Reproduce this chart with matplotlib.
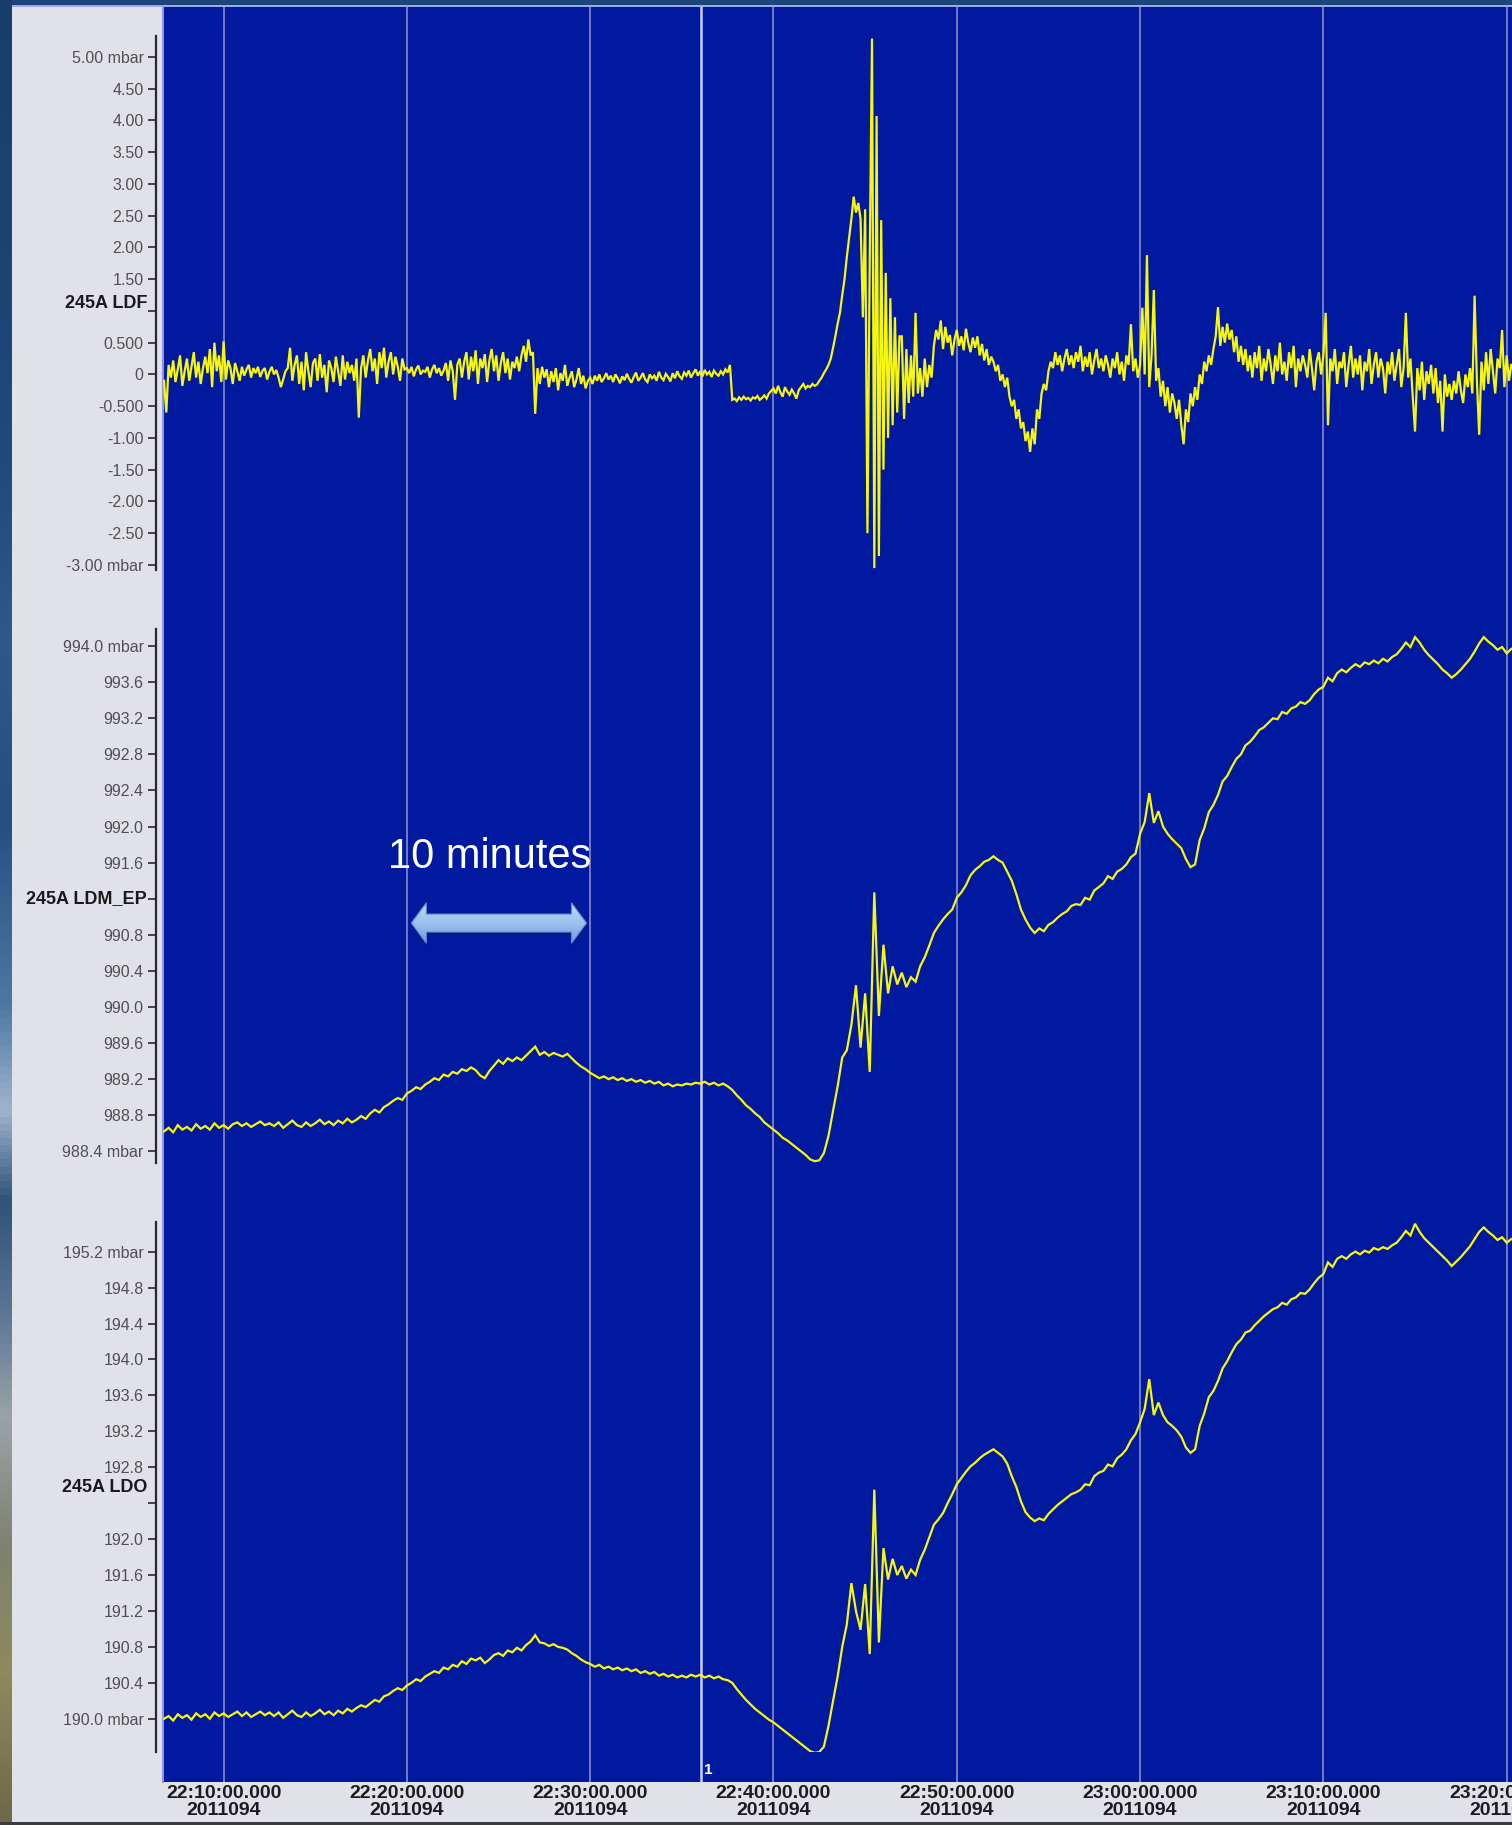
import numpy as np
import matplotlib
matplotlib.use("Agg")
import matplotlib.pyplot as plt
import matplotlib.transforms as mtransforms
from matplotlib.colors import LinearSegmentedColormap
from matplotlib.patches import Polygon, Rectangle

W, H, DPI = 1512, 1825, 100

# sample times are minutes after 22:00 (day 2011094)
T_START = 6.75
LDF_STEP = 0.125
BARO_STEP = 0.25

# 245A LDF, mbar, one sample every 7.5 s (rows = one minute, first row starts 22:06:45)
ldf = [
    -0.10, -0.60,
    0.15, -0.05, 0.22, -0.12, 0.08, 0.30, -0.18, 0.05,
    0.25, -0.10, 0.12, 0.35, -0.05, 0.20, -0.15, 0.10,
    0.28, 0.02, 0.40, -0.20, 0.50, 0.05, 0.30, -0.12,
    0.52, -0.08, 0.22, 0.10, -0.15, 0.18, 0.05, -0.10,
    0.12, -0.02, 0.08, 0.15, -0.05, 0.10, 0.02, 0.12,
    -0.04, 0.06, 0.10, -0.08, 0.04, 0.12, 0.00, 0.07,
    -0.05, -0.20, -0.08, 0.05, 0.10, 0.42, -0.10, 0.15,
    0.30, -0.15, 0.20, -0.25, 0.35, 0.05, -0.20, 0.18,
    0.25, -0.10, 0.32, -0.05, 0.15, -0.28, 0.22, 0.10,
    -0.12, 0.28, 0.05, -0.18, 0.30, -0.08, 0.20, 0.02,
    0.15, -0.10, 0.25, -0.68, 0.10, 0.30, -0.05, 0.22,
    0.40, 0.05, 0.25, -0.15, 0.35, 0.10, 0.42, -0.05,
    0.20, 0.35, 0.00, 0.28, 0.12, -0.10, 0.25, 0.08,
    0.10, 0.02, 0.12, -0.03, 0.08, 0.14, 0.00, 0.06,
    0.04, 0.12, -0.05, 0.08, 0.15, 0.02, 0.10, -0.02,
    0.06, 0.18, -0.10, 0.22, 0.05, -0.40, 0.15, 0.25,
    -0.05, 0.20, 0.35, -0.08, 0.28, 0.05, 0.38, -0.15,
    0.25, 0.10, 0.32, -0.12, 0.22, 0.40, 0.05, 0.30,
    -0.10, 0.18, 0.35, 0.02, 0.25, -0.08, 0.20, 0.10,
    0.28, 0.05, 0.30, 0.45, 0.20, 0.55, 0.30, 0.35,
    -0.62, 0.10, -0.15, 0.12, -0.05, 0.08, -0.20, 0.05,
    -0.12, 0.10, -0.25, 0.02, -0.10, 0.15, -0.18, -0.05,
    0.05, -0.20, -0.08, 0.10, -0.15, -0.02, -0.22, -0.10,
    -0.05, -0.15, -0.02, -0.10, 0.00, -0.12, -0.06, 0.02,
    -0.08, -0.02, -0.12, 0.00, -0.06, -0.14, -0.03, -0.09,
    0.01, -0.07, -0.13, -0.04, 0.03, -0.10, -0.05, 0.02,
    -0.08, -0.12, 0.00, -0.06, -0.02, -0.10, 0.04, -0.05,
    -0.09, 0.01, -0.04, -0.11, 0.02, -0.06, 0.05, -0.03,
    -0.07, 0.03, -0.02, 0.06, -0.05, 0.02, 0.08, -0.02,
    0.05, -0.03, 0.07, 0.00, 0.04, -0.04, 0.06, 0.01,
    -0.02, 0.05, 0.00, 0.08, 0.03, 0.15, -0.40, -0.38,
    -0.42, -0.36, -0.40, -0.35, -0.39, -0.37, -0.41, -0.36,
    -0.38, -0.34, -0.40, -0.37, -0.33, -0.38, -0.30, -0.26,
    -0.22, -0.30, -0.18, -0.28, -0.35, -0.20, -0.27, -0.32,
    -0.24, -0.30, -0.38, -0.25, -0.20, -0.15, -0.22, -0.18,
    -0.20, -0.15, -0.18, -0.16, -0.10, -0.05, 0.02, 0.08,
    0.15, 0.25, 0.42, 0.60, 0.80, 0.97, 1.25, 1.50,
    1.85, 2.15, 2.45, 2.80, 2.55, 2.70, 2.45, 0.90,
    2.60, -2.50, 1.80, 5.29, -3.05, 4.07, -2.86, 2.43,
    -1.50, 1.60, -1.00, 1.20, -0.80, 0.90, -0.60, 0.60,
    0.60, -0.70, 0.40, -0.45, 0.30, -0.35, 0.97, -0.30,
    0.10, -0.35, 0.25, -0.20, 0.15, -0.05, 0.45, 0.70,
    0.55, 0.85, 0.40, 0.75, 0.50, 0.62, 0.30, 0.55,
    0.70, 0.45, 0.60, 0.38, 0.72, 0.50, 0.35, 0.58,
    0.42, 0.60, 0.30, 0.48, 0.22, 0.40, 0.15, 0.28,
    0.20, 0.05, 0.15, -0.10, 0.00, -0.20, -0.05, -0.35,
    -0.50, -0.40, -0.70, -0.55, -0.85, -0.75, -1.05, -0.90,
    -1.22, -0.85, -1.10, -0.55, -0.70, -0.30, -0.15, -0.25,
    0.05, 0.20, 0.10, 0.35, 0.15, 0.30, 0.05, 0.25,
    0.40, 0.15, 0.30, 0.10, 0.35, 0.20, 0.45, 0.05,
    0.28, 0.12, 0.35, 0.00, 0.22, 0.40, 0.10, 0.25,
    0.05, 0.30, 0.15, -0.05, 0.25, 0.10, 0.35, 0.00,
    0.20, -0.10, 0.30, 0.15, 0.79, 0.05, 0.25, -0.05,
    0.15, 1.05, 0.00, 1.88, -0.20, 0.30, 1.33, -0.10,
    0.10, -0.35, -0.10, -0.50, -0.20, -0.60, -0.30, -0.45,
    -0.70, -0.40, -0.80, -1.10, -0.55, -0.75, -0.30, -0.50,
    -0.20, -0.40, 0.00, -0.15, 0.20, 0.05, 0.30, 0.15,
    0.40, 0.60, 1.06, 0.45, 0.75, 0.50, 0.80, 0.55,
    0.70, 0.35, 0.60, 0.20, 0.45, 0.15, 0.40, 0.05,
    0.30, -0.05, 0.35, 0.10, 0.45, -0.10, 0.25, 0.05,
    0.40, 0.15, -0.15, 0.30, 0.05, 0.50, 0.00, 0.20,
    -0.10, 0.35, 0.10, 0.45, -0.20, 0.25, 0.05, 0.30,
    0.15, -0.05, 0.40, 0.10, -0.25, 0.20, 0.35, 0.00,
    0.30, 0.97, -0.80, 0.25, 0.05, 0.40, -0.15, 0.20,
    0.10, 0.35, -0.20, 0.15, 0.45, -0.05, 0.25, 0.00,
    0.30, -0.25, 0.20, 0.05, 0.40, -0.15, 0.15, 0.35,
    -0.05, 0.25, 0.10, -0.30, 0.20, 0.00, 0.35, -0.10,
    0.15, 0.40, -0.20, 0.10, 0.97, -0.05, 0.25, -0.35,
    -0.90, 0.10, -0.25, 0.20, -0.40, 0.05, -0.15, 0.15,
    -0.30, 0.10, -0.45, -0.10, -0.90, 0.00, -0.35, -0.15,
    -0.40, -0.10, -0.30, 0.05, -0.25, -0.45, 0.00, -0.20,
    0.10, -0.30, 1.24, -0.10, -0.95, 0.20, -0.25, 0.35,
    -0.15, 0.40, 0.05, -0.30, 0.25, 0.10, 0.70, -0.20,
    0.30, -0.10, 0.15,
]

# 245A LDM_EP, mbar, one sample every 15 s
ldm_ep = [
    988.62,
    988.66, 988.61, 988.69, 988.64,
    988.67, 988.63, 988.70, 988.65,
    988.68, 988.64, 988.71, 988.66,
    988.69, 988.65, 988.70, 988.72,
    988.68, 988.71, 988.67, 988.70,
    988.73, 988.69, 988.71, 988.68,
    988.72, 988.66, 988.70, 988.74,
    988.69, 988.67, 988.72, 988.68,
    988.71, 988.75, 988.70, 988.73,
    988.69, 988.74, 988.71, 988.76,
    988.72, 988.75, 988.79, 988.76,
    988.82, 988.86, 988.83, 988.89,
    988.92, 988.96, 988.99, 988.97,
    989.04, 989.07, 989.11, 989.09,
    989.14, 989.17, 989.21, 989.19,
    989.25, 989.23, 989.28, 989.26,
    989.31, 989.29, 989.33, 989.30,
    989.24, 989.21, 989.29, 989.35,
    989.41, 989.37, 989.43, 989.40,
    989.44, 989.41, 989.46, 989.51,
    989.56, 989.47, 989.50, 989.46,
    989.49, 989.47, 989.45, 989.48,
    989.43, 989.38, 989.34, 989.31,
    989.27, 989.24, 989.21, 989.23,
    989.20, 989.22, 989.19, 989.21,
    989.18, 989.20, 989.17, 989.19,
    989.16, 989.18, 989.15, 989.17,
    989.13, 989.15, 989.12, 989.14,
    989.13, 989.15, 989.14, 989.16,
    989.15, 989.17, 989.14, 989.16,
    989.13, 989.15, 989.12, 989.08,
    989.02, 988.97, 988.91, 988.87,
    988.82, 988.78, 988.72, 988.68,
    988.64, 988.60, 988.55, 988.52,
    988.48, 988.44, 988.40, 988.36,
    988.31, 988.29, 988.30, 988.38,
    988.57, 988.85, 989.12, 989.44,
    989.52, 989.80, 990.24, 989.55,
    990.15, 989.28, 991.27, 989.90,
    990.69, 990.15, 990.45, 990.25,
    990.38, 990.22, 990.33, 990.28,
    990.45, 990.55, 990.68, 990.82,
    990.90, 990.97, 991.03, 991.08,
    991.21, 991.27, 991.35, 991.46,
    991.52, 991.56, 991.61, 991.63,
    991.67, 991.63, 991.60, 991.50,
    991.40, 991.25, 991.08, 990.97,
    990.88, 990.82, 990.87, 990.84,
    990.91, 990.94, 990.99, 991.03,
    991.06, 991.12, 991.14, 991.13,
    991.21, 991.19, 991.29, 991.33,
    991.37, 991.45, 991.42, 991.50,
    991.53, 991.58, 991.66, 991.70,
    991.92, 992.05, 992.37, 992.04,
    992.17, 992.00, 991.92, 991.86,
    991.81, 991.76, 991.64, 991.55,
    991.58, 991.85, 991.98, 992.16,
    992.24, 992.35, 992.50, 992.56,
    992.66, 992.75, 992.80, 992.90,
    992.94, 993.00, 993.07, 993.10,
    993.15, 993.20, 993.19, 993.27,
    993.25, 993.31, 993.33, 993.38,
    993.36, 993.40, 993.47, 993.52,
    993.55, 993.65, 993.61, 993.70,
    993.74, 993.71, 993.76, 993.80,
    993.77, 993.82, 993.80, 993.84,
    993.81, 993.86, 993.83, 993.88,
    993.91, 993.97, 994.04, 993.99,
    994.10, 994.04, 993.96, 993.90,
    993.85, 993.80, 993.74, 993.70,
    993.65, 993.69, 993.74, 993.80,
    993.86, 993.94, 994.03, 994.10,
    994.05, 994.01, 993.96, 993.99,
    993.92, 993.97,
]

# 245A LDO, mbar, one sample every 15 s
ldo = [
    190.00,
    190.03, 189.98, 190.05, 190.01,
    190.04, 189.99, 190.06, 190.02,
    190.05, 190.00, 190.07, 190.03,
    190.06, 190.02, 190.05, 190.08,
    190.03, 190.07, 190.02, 190.05,
    190.08, 190.04, 190.07, 190.03,
    190.07, 190.01, 190.05, 190.09,
    190.04, 190.02, 190.07, 190.03,
    190.06, 190.10, 190.05, 190.08,
    190.04, 190.09, 190.06, 190.11,
    190.08, 190.12, 190.15, 190.13,
    190.17, 190.21, 190.19, 190.25,
    190.27, 190.31, 190.34, 190.32,
    190.37, 190.40, 190.44, 190.42,
    190.47, 190.50, 190.53, 190.51,
    190.57, 190.55, 190.60, 190.58,
    190.64, 190.61, 190.67, 190.65,
    190.68, 190.62, 190.66, 190.71,
    190.73, 190.70, 190.76, 190.74,
    190.79, 190.76, 190.82, 190.86,
    190.93, 190.85, 190.84, 190.81,
    190.83, 190.80, 190.79, 190.77,
    190.73, 190.70, 190.66, 190.63,
    190.61, 190.58, 190.60, 190.56,
    190.58, 190.55, 190.57, 190.54,
    190.56, 190.53, 190.55, 190.51,
    190.53, 190.50, 190.52, 190.48,
    190.50, 190.47, 190.49, 190.46,
    190.48, 190.46, 190.49, 190.47,
    190.49, 190.46, 190.48, 190.45,
    190.47, 190.44, 190.43, 190.40,
    190.33, 190.27, 190.21, 190.16,
    190.11, 190.07, 190.03, 189.99,
    189.96, 189.92, 189.88, 189.84,
    189.80, 189.76, 189.72, 189.68,
    189.64, 189.62, 189.63, 189.69,
    189.92, 190.20, 190.47, 190.80,
    191.05, 191.51, 191.20, 190.99,
    191.50, 190.72, 192.55, 190.85,
    191.90, 191.55, 191.78, 191.60,
    191.70, 191.56, 191.66, 191.60,
    191.77, 191.88, 192.02, 192.16,
    192.22, 192.29, 192.40, 192.50,
    192.61, 192.68, 192.75, 192.81,
    192.85, 192.90, 192.94, 192.97,
    193.00, 192.96, 192.92, 192.84,
    192.70, 192.58, 192.42, 192.30,
    192.24, 192.20, 192.23, 192.21,
    192.28, 192.33, 192.38, 192.42,
    192.46, 192.50, 192.52, 192.55,
    192.61, 192.60, 192.70, 192.74,
    192.76, 192.83, 192.81, 192.90,
    192.94, 193.00, 193.10, 193.17,
    193.30, 193.45, 193.78, 193.38,
    193.52, 193.38, 193.30, 193.26,
    193.21, 193.14, 193.02, 192.96,
    193.00, 193.26, 193.40, 193.58,
    193.65, 193.76, 193.90, 193.98,
    194.08, 194.17, 194.22, 194.30,
    194.32, 194.38, 194.43, 194.48,
    194.52, 194.56, 194.58, 194.63,
    194.61, 194.67, 194.69, 194.74,
    194.73, 194.78, 194.85, 194.91,
    194.95, 195.08, 195.03, 195.12,
    195.15, 195.12, 195.17, 195.20,
    195.17, 195.21, 195.19, 195.24,
    195.22, 195.25, 195.23, 195.27,
    195.30, 195.36, 195.43, 195.38,
    195.51, 195.42, 195.35, 195.30,
    195.25, 195.20, 195.15, 195.10,
    195.04, 195.09, 195.14, 195.20,
    195.26, 195.34, 195.42, 195.47,
    195.42, 195.38, 195.33, 195.36,
    195.30, 195.34,
]

time_ticks = [10, 20, 30, 40, 50, 60, 70, 80]
time_labels = ["22:10:00.000", "22:20:00.000", "22:30:00.000", "22:40:00.000",
               "22:50:00.000", "23:00:00.000", "23:10:00.000", "23:20:00.000"]
day_code = "2011094"
marker_time = 36.05
marker_label = "1"

ldf_ticks = [5.0, 4.5, 4.0, 3.5, 3.0, 2.5, 2.0, 1.5, 1.0, 0.5, 0.0,
             -0.5, -1.0, -1.5, -2.0, -2.5, -3.0]
ldf_ticklabels = ["5.00 mbar", "4.50", "4.00", "3.50", "3.00", "2.50", "2.00", "1.50", "",
                  "0.500", "0", "-0.500", "-1.00", "-1.50", "-2.00", "-2.50", "-3.00 mbar"]
ldm_ticks = [994.0, 993.6, 993.2, 992.8, 992.4, 992.0, 991.6, 991.2,
             990.8, 990.4, 990.0, 989.6, 989.2, 988.8, 988.4]
ldm_ticklabels = ["994.0 mbar", "993.6", "993.2", "992.8", "992.4", "992.0", "991.6", "",
                  "990.8", "990.4", "990.0", "989.6", "989.2", "988.8", "988.4 mbar"]
ldo_ticks = [195.2, 194.8, 194.4, 194.0, 193.6, 193.2, 192.8, 192.4,
             192.0, 191.6, 191.2, 190.8, 190.4, 190.0]
ldo_ticklabels = ["195.2 mbar", "194.8", "194.4", "194.0", "193.6", "193.2", "192.8", "",
                  "192.0", "191.6", "191.2", "190.8", "190.4", "190.0 mbar"]

# colours
BG_NAVY = "#1b4677"
PANEL_GREY = "#e1e1ea"
PLOT_BLUE = "#00199e"
GRID = "#7b84c6"
TRACE = "#f7f70a"
TICK_TEXT = "#505050"
XMIN, XMAX = 6.694, 80.29


def fig_box(x0, y0, x1, y1):
    """pixel box (top-left origin) -> figure fraction rect"""
    return [x0 / W, 1 - y1 / H, (x1 - x0) / W, (y1 - y0) / H]


fig = plt.figure(figsize=(W / DPI, H / DPI), dpi=DPI)
fig.patch.set_facecolor(BG_NAVY)

# ---- frame: grey side panel, photo strip, borders ----
frame = fig.add_axes([0, 0, 1, 1])
frame.axis("off")
photo = LinearSegmentedColormap.from_list("photo", [
    (0.00, "#183d6a"), (0.25, "#1f4a7a"), (0.35, "#2d5a88"), (0.45, "#24507f"),
    (0.55, "#4a77a3"), (0.61, "#9fb4cc"), (0.66, "#2e5379"), (0.72, "#5a7594"),
    (0.78, "#9aa3a8"), (0.85, "#7f8170"), (0.92, "#8e8a5e"), (1.00, "#6e6a48")])
frame.imshow(np.linspace(0, 1, 400).reshape(-1, 1), cmap=photo, aspect="auto",
             extent=(0, 12, 1822, 0), interpolation="bilinear")
frame.add_patch(Rectangle((12, 7), W - 12, 1815, color=PANEL_GREY, lw=0))
frame.add_patch(Rectangle((12, 4.5), W - 12, 2.8, color="#9ea6ee", lw=0))
frame.add_patch(Rectangle((0, 1822), W, 3, color="#3b3b40", lw=0))
frame.set_xlim(0, W)
frame.set_ylim(H, 0)

# ---- blue plotting area with the time grid ----
ax_bg = fig.add_axes(fig_box(163, 7, W, 1782))
ax_bg.set_facecolor(PLOT_BLUE)
ax_bg.set_xlim(XMIN, XMAX)
ax_bg.set_ylim(0, 1)
ax_bg.set_yticks([])
ax_bg.set_xticks(time_ticks)
ax_bg.set_xticklabels([f"{lab}\n{day_code}" for lab in time_labels],
                      fontfamily="Liberation Sans", fontweight="bold", fontsize=14,
                      color="#1c1c1c", linespacing=1.0)
ax_bg.tick_params(axis="x", length=0, pad=2)
ax_bg.grid(axis="x", color=GRID, lw=1.3)
ax_bg.axvline(marker_time, color="#c9d0ff", lw=1.8)
ax_bg.text(marker_time + 0.38, 0.007, marker_label, transform=ax_bg.get_xaxis_transform(),
           color="white", fontsize=11, fontweight="bold", ha="center", va="center",
           family="Liberation Sans")
for side in ("top", "right", "bottom"):
    ax_bg.spines[side].set_visible(False)
ax_bg.spines["left"].set_color("#8c94e4")
ax_bg.spines["left"].set_linewidth(1.5)

# ---- the three channels ----
panels = [
    # values, step, pixel span, ylim, ticks, labels, name, name y
    (ldf, LDF_STEP, (36, 570), (-3.08, 5.33), ldf_ticks, ldf_ticklabels, "245A LDF", 1.125),
    (ldm_ep, BARO_STEP, (629, 1163), (988.27, 994.19), ldm_ticks, ldm_ticklabels, "245A LDM_EP", 991.2),
    (ldo, BARO_STEP, (1222, 1752), (189.63, 195.53), ldo_ticks, ldo_ticklabels, "245A LDO", 192.57),
]

axes = []
for values, step, (py0, py1), ylim, ticks, labels, name, name_y in panels:
    ax = fig.add_axes(fig_box(163, py0, W, py1))
    ax.patch.set_alpha(0)
    t = T_START + step * np.arange(len(values))
    ax.plot(t, values, color=TRACE, lw=1.6, solid_joinstyle="miter")
    ax.set_xlim(XMIN, XMAX)
    ax.set_ylim(*ylim)
    for side in ("top", "right", "bottom"):
        ax.spines[side].set_visible(False)
    ax.spines["left"].set_position(("outward", 5))
    ax.spines["left"].set_color("#2a2a2a")
    ax.spines["left"].set_linewidth(1.6)
    ax.set_xticks([])
    ax.set_yticks(ticks)
    ax.set_yticklabels(labels, fontsize=11.5, color=TICK_TEXT, family="Liberation Sans")
    ax.tick_params(axis="y", length=6, width=1.2, color="#2a2a2a", pad=3)
    trans = mtransforms.blended_transform_factory(fig.transFigure, ax.transData)
    ax.text(147 / W, name_y, name, transform=trans, ha="right", va="center",
            fontsize=13, fontweight="bold", color="#1a1a1a", family="Liberation Sans")
    axes.append(ax)

# ---- "10 minutes" scale arrow on the middle channel ----
ax_mid = axes[1]
x0, x1, yc = 20.24, 29.8, 990.93
hh, sh, hl = 0.225, 0.1, 0.82
arrow_pts = [(x0, yc), (x0 + hl, yc + hh), (x0 + hl, yc + sh), (x1 - hl, yc + sh),
             (x1 - hl, yc + hh), (x1, yc), (x1 - hl, yc - hh), (x1 - hl, yc - sh),
             (x0 + hl, yc - sh), (x0 + hl, yc - hh)]
shadow = Polygon([(x, y - 0.03) for x, y in arrow_pts], closed=True,
                 facecolor="#000c50", edgecolor="none", alpha=0.4, zorder=1)
ax_mid.add_patch(shadow)
arrow = Polygon(arrow_pts, closed=True, facecolor="none", edgecolor="#5a8ad0", lw=0.8, zorder=4)
ax_mid.add_patch(arrow)
grad = ax_mid.imshow(np.linspace(0, 1, 64).reshape(-1, 1),
                     cmap=LinearSegmentedColormap.from_list("arr", ["#c2dcf8", "#9cc2f0", "#6e9ee0"]),
                     extent=(x0, x1, yc - hh, yc + hh), origin="upper", aspect="auto",
                     interpolation="bilinear", zorder=3)
grad.set_clip_path(arrow)
ax_mid.text(24.52, 991.66, "10 minutes", color="white", fontsize=30,
            ha="center", va="center", family="Liberation Sans")
ax_mid.set_xlim(XMIN, XMAX)
ax_mid.set_ylim(988.27, 994.19)

fig.savefig("out.png", dpi=DPI, facecolor=fig.get_facecolor())
